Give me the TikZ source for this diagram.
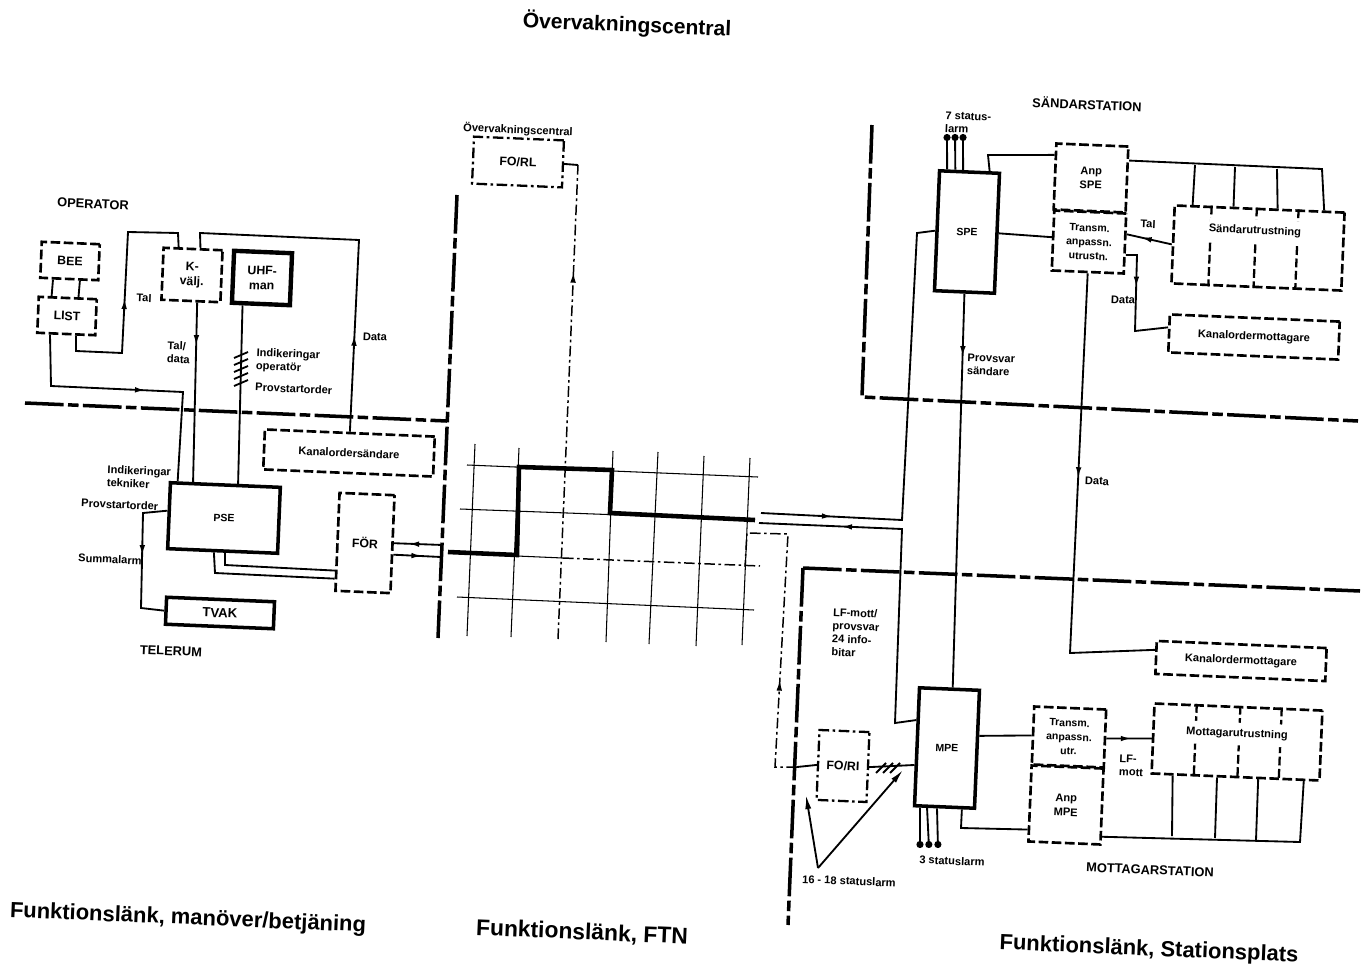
\documentclass[tikz,border=0pt]{standalone}
\usepackage{fontspec}
\setmainfont{Liberation Sans}
\usetikzlibrary{arrows.meta,decorations.markings}

\tikzset{
  tilt/.style={rotate=-2.4},
  wh/.style 2 args={minimum width=#1*0.02cm, minimum height=#2*0.02cm},
  boxbase/.style={tilt, draw, inner sep=0pt, align=center, font=\fontsize{7}{8.5}\selectfont\bfseries},
  pbox/.style={boxbase, line width=2pt},
  dbox/.style={boxbase, line width=1.5pt, dash pattern=on 5.5pt off 2pt},
  ddbox/.style={boxbase, line width=1.3pt, dash pattern=on 6pt off 2pt on 1.5pt off 2pt},
  lbl/.style={tilt, inner sep=0pt, align=left, font=\fontsize{6.3}{7.5}\selectfont\bfseries},
  caps/.style={tilt, inner sep=0pt, font=\fontsize{7.3}{9}\selectfont\bfseries},
  head/.style={tilt, inner sep=0pt, font=\fontsize{12.5}{15}\selectfont\bfseries},
  wire/.style={line width=1.05pt},
  grid/.style={line width=0.6pt},
  route/.style={line width=2.6pt},
  ddwire/.style={line width=0.85pt, dash pattern=on 6pt off 2pt on 1.5pt off 2pt},
  border/.style={line width=2pt, dash pattern=on 22pt off 2.5pt on 6pt off 2.5pt},
  part/.style={line width=1.3pt, dash pattern=on 5pt off 2pt},
  tipf/.style={postaction={decorate}, decoration={markings,
    mark=at position #1 with {\arrow{Latex[length=6pt,width=3.2pt]}}}},
  dotend/.style={-{Circle[length=4pt]}},
}

\begin{document}
\begin{tikzpicture}[x=0.02cm, y=-0.02cm]
\useasboundingbox (0,0) rectangle (1366,970);

% Headings
\node[head, font=\fontsize{12}{15}\selectfont\bfseries] (htop) at (627,25) {Övervakningscentral};
\node[head] (hleft) at (188,919) {Funktionslänk, manöver/betjäning};
\node[head, font=\fontsize{13}{15}\selectfont\bfseries] (hmid) at (582,933) {Funktionslänk, FTN};
\node[head] (hright) at (1149,950) {Funktionslänk, Stationsplats};

% Boundaries between the stations
\draw[border] (25,403) -- (447,421);
\draw[border] (457,195) -- (438,638);
\draw[border] (872,125) -- (862,397) -- (1358,421);
\draw[border] (803,568) -- (1360,591);
\draw[border] (803,568) -- (788,925);

% Operator side
\node[dbox, wh={58}{36}] (bee) at (70,261) {BEE};
\node[dbox, wh={58}{36}] (list) at (67,316) {LIST};
\node[dbox, wh={59}{52}] (kvalj) at (192,275) {K-\\välj.};
\node[pbox, line width=2.5pt, wh={58}{52}] (uhf) at (262,278) {UHF-\\man};
\node[dbox, wh={170}{40}, font=\fontsize{6.3}{7.5}\selectfont\bfseries] (kanal) at (349,453) {Kanalordersändare};
\node[pbox, wh={110}{66}, font=\fontsize{6}{8}\selectfont\bfseries] (pse) at (224,518) {PSE};
\node[pbox, wh={108}{27}, font=\fontsize{7.5}{8}\selectfont\bfseries] (tvak) at (220,613) {TVAK};
\node[dbox, wh={55}{98}] (for) at (365,543) {FÖR};

\node[caps] (loper) at (93,204) {OPERATOR};
\node[lbl] (ltal) at (144,298) {Tal};
\node[lbl, anchor=west] (ltald) at (167,352) {Tal/\\data};
\node[lbl, anchor=west] (lindo) at (256,360) {Indikeringar\\operatör};
\node[lbl, anchor=west] (lprov) at (255,387) {Provstartorder};
\node[lbl] (ldata) at (375,337) {Data};
\node[lbl, anchor=west] (lindt) at (107,476) {Indikeringar\\tekniker};
\node[lbl, anchor=west] (lprovt) at (81,503) {Provstartorder};
\node[lbl, anchor=west] (lsum) at (78,558) {Summalarm};
\node[caps] (ltele) at (171,651) {TELERUM};

\foreach \a in {-130,-61} \draw[wire] (bee.\a) -- (list.-\a);
\draw[wire, tipf=.47] (list.-63) -- (76,351) -- (122,353) -- (128,232) -- (178,233) -- (kvalj.118);
\draw[wire, tipf=.535] (list.-130) -- (51,386) -- (183,392) -- (pse.144);
\draw[wire, tipf=.24] (kvalj.-77) -- (pse.133);
\draw[wire] (uhf.-123) -- (pse.70);
\foreach \y in {355,362,369,376,383} \draw[wire] (234,\y+3) -- (248,\y-3);
\draw[wire, tipf=.264] (kanal.north) -- (359,240) -- (200,233) -- (kvalj.75);
\draw[wire, tipf=.47] (pse.175) -- (143,513) -- (141,608) -- (tvak.west);
\draw[wire] (pse.-86) -- (225,565) -- (for.225);
\draw[wire] (pse.-104) -- (215,573) -- (for.232);

\coordinate (forup) at (443,545);
\coordinate (forlo) at (441,557);
\draw[wire, tipf=.7] (forup) -- (for.2);
\draw[wire, tipf=.6] (for.-20) -- (forlo);

% Central link: the mesh
\foreach \xa/\ya/\xb/\yb in {475/444/467/636, 519/448/511/637, 613/451/606/642,
  658/452/649/644, 704/456/696/646, 750/458/742/645}
  \draw[grid] (\xa,\ya) -- (\xb,\yb);
\draw[grid] (467,465) -- (758,477);
\draw[grid] (460,509) -- (755,520);
\draw[grid] (448,553) -- (563,558);
\draw[ddwire] (563,558) -- (760,566);
\draw[grid] (457,597) -- (754,610);
\draw[route] (448,552) -- (517,555) -- (519,467) -- (612,470) -- (610,513) -- (755,520);

\node[ddbox, wh={90}{47}] (forl) at (518,162) {FO/RL};
\node[lbl] (lcent) at (518,130) {Övervakningscentral};
\coordinate (gridend) at (558,639);
\coordinate (forlbend) at (578,165);
\draw[ddwire, tipf=.774] (gridend) -- (forlbend);
\draw[wire] (forl.east) -- (forlbend);

% Transmitter station
\node[pbox, wh={60}{120}, font=\fontsize{6}{8}\selectfont\bfseries] (spe) at (967,232) {SPE};
\node[dbox, wh={72}{66}, font=\fontsize{6.3}{8}\selectfont\bfseries] (anps) at (1091,178) {Anp\\SPE};
\node[dbox, wh={72}{60}, font=\fontsize{6}{8}\selectfont\bfseries] (trans) at (1089,242) {Transm.\\anpassn.\\utrustn.};
\node[dbox, wh={170}{78}] (sandar) at (1258,248) {};
\node[dbox, wh={170}{38}, font=\fontsize{6.3}{7.5}\selectfont\bfseries] (kmott) at (1254,337) {Kanalordermottagare};

\foreach \a in {140,94,46} \draw[part] (sandar.\a) -- (sandar.-\a);
\node[lbl, fill=white, inner ysep=3.5pt] (lsandar) at (1255,231) {Sändarutrustning};

\node[caps] (lsta) at (1087,104) {SÄNDARSTATION};
\node[lbl, anchor=west] (lsev) at (945,122) {7 status-\\larm};
\node[lbl] (ltal2) at (1148,224) {Tal};
\node[lbl] (ldata2) at (1123,300) {Data};
\node[lbl, anchor=west] (lsvar) at (967,364) {Provsvar\\sändare};
\node[lbl] (ldata3) at (1097,481) {Data};

\foreach \a/\x in {110/947,103/955,96/963} {
  \coordinate (st\x) at (\x,134);
  \draw[wire, dotend] (spe.\a) -- (st\x);
}
\draw[wire] (spe.72) -- (988,155) -- (anps.150);
\draw[wire] (spe.east) -- (trans.175);
\draw[wire, tipf=.68] (sandar.west) -- (trans.14);
\draw[wire, tipf=.36] (trans.-17) -- (1137,255) -- (1135,331) -- (kmott.176);

% supply line along the top of the transmitter
\coordinate (sbusend) at (1322,169);
\draw[wire] (anps.27) -- (sbusend) -- (sandar.32);
\foreach \a/\x/\y in {149/1195/165,123/1235/167,66/1277/169}
  \draw[wire] (\x,\y) -- (sandar.\a);

% Link from the mesh to both stations
\coordinate (ftnup) at (761,513);
\coordinate (ftnlo) at (759,523);
\draw[wire, tipf=.16] (ftnup) -- (902,520) -- (917,233) -- (spe.west);

% Receiver station
\node[pbox, wh={60}{118}, font=\fontsize{6}{8}\selectfont\bfseries] (mpe) at (947,748) {MPE};
\node[ddbox, wh={50}{70}] (forri) at (843,766) {FO/RI};
\node[dbox, wh={72}{58}, font=\fontsize{6}{8}\selectfont\bfseries] (trans2) at (1069,737) {Transm.\\anpassn.\\utr.};
\node[dbox, wh={72}{76}, font=\fontsize{6.3}{8}\selectfont\bfseries] (anpm) at (1066,805) {Anp\\MPE};
\node[dbox, wh={168}{70}] (mott) at (1237,742) {};
\node[dbox, wh={170}{33}, font=\fontsize{6.3}{7.5}\selectfont\bfseries] (kmott2) at (1241,661) {Kanalordermottagare};

\foreach \a in {139,87,40} \draw[part] (mott.\a) -- (mott.-\a);
\node[lbl, fill=white, inner ysep=3.5pt] (lmott) at (1237,734) {Mottagarutrustning};

\node[lbl, anchor=west] (llf) at (832,632) {LF-mott/\\provsvar\\24 info-\\bitar};
\node[lbl, anchor=west] (llf2) at (1119,765) {LF-\\mott};
\node[lbl] (lthree) at (952,861) {3 statuslarm};
\node[lbl] (lsix) at (849,881) {16 - 18 statuslarm};
\node[caps] (lmsta) at (1150,870) {MOTTAGARSTATION};

\draw[wire, tipf=.77] (mpe.140) -- (895,723) -- (902,529) -- (ftnlo);
\draw[wire, tipf=.44] (trans.south) -- (1070,653) -- (kmott2.175);
\draw[wire, tipf=.16] (spe.south) -- (mpe.87);
\draw[wire] (mpe.23) -- (trans2.west);
\draw[wire] (mpe.-74) -- (961,828) -- (anpm.215);
\draw[wire, tipf=.55] (trans2.east) -- (mott.west);
\foreach \a/\x in {-112/920,-106/929,-97/938} {
  \coordinate (sm\x) at (\x,848);
  \draw[wire, dotend] (mpe.\a) -- (sm\x);
}

\coordinate (mbusend) at (1300,842);
\draw[wire] (anpm.-39) -- (mbusend) -- (mott.-28);
\foreach \a/\x/\y in {-150/1172/836,-117/1215/838,-58/1256/840}
  \draw[wire] (\x,\y) -- (mott.\a);

% FO/RI and its return path to the mesh
\coordinate (fodot) at (797,767);
\coordinate (retend) at (745,567);
\draw[wire] (forri.west) -- (fodot);
\draw[ddwire, tipf=.33] (fodot) -- (775,767) -- (788,534) -- (747,533) -- (retend);
\draw[wire] (forri.east) -- (mpe.210);
\foreach \x in {881,888,895} \draw[wire] (\x-5,773) -- (\x+5,763);

% Pointer lines of the status alarms
\coordinate (apex) at (818,868);
\coordinate (apexl) at (806,795);
\coordinate (apexr) at (903,770);
\draw[wire, -{Latex[length=8pt,width=3.5pt]}] (apex) -- (apexl);
\draw[wire, -{Latex[length=8pt,width=3.5pt]}] (apex) -- (apexr);

\end{tikzpicture}
\end{document}
